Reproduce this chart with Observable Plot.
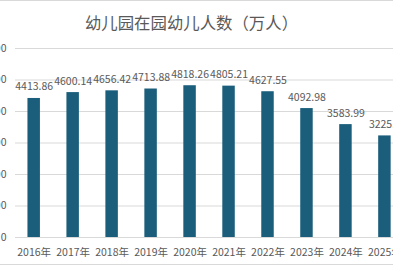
<!DOCTYPE html>
<html>
<head>
<meta charset="utf-8">
<script src="https://cdn.jsdelivr.net/npm/d3@7"></script>
<script src="https://cdn.jsdelivr.net/npm/@observablehq/plot@0.6"></script>
<style>
  html, body { margin: 0; padding: 0; background: #fff; overflow: hidden; }
  #wrap {
    width: 393px; height: 263px; overflow: hidden;
    border-top: 1px solid #d9d9d9; border-bottom: 1px solid #d9d9d9;
    font-family: "Noto Sans CJK SC", sans-serif; background: #fff;
  }
  #title {
    height: 39px; box-sizing: border-box; padding-top: 11px; padding-right: 10px;
    line-height: 20px; font-size: 16.4px; color: #595959; text-align: center;
    white-space: nowrap;
  }
  #chart svg { display: block; overflow: hidden; }
</style>
</head>
<body>
<div id="wrap">
  <div id="title">幼儿园在园幼儿人数（万人）</div>
  <div id="chart"></div>
</div>
<script>
const years = ["2016年","2017年","2018年","2019年","2020年","2021年","2022年","2023年","2024年","2025年"];
const values = [4413.86, 4600.14, 4656.42, 4713.88, 4818.26, 4805.21, 4627.55, 4092.98, 3583.99, 3225.1];
const yTicks = [0, 1000, 2000, 3000, 4000, 5000, 6000];

const data = years.map((year, i) => ({year, value: values[i]}));
const barColor = "#1a5e7b";
const textColor = "#595959";

const chart = Plot.plot({
  width: 393,
  height: 224,
  marginLeft: 15,
  marginRight: 0,
  marginTop: 8,
  marginBottom: 27,
  style: {fontFamily: "'Noto Sans CJK SC', sans-serif", fontSize: "10.5px", color: textColor, background: "#fff", overflow: "hidden"},
  x: {domain: years, range: [14.2, 403.9], paddingInner: 0.68, paddingOuter: 0.34, round: false, label: null},
  y: {domain: [0, 6000], label: null},
  marks: [
    Plot.gridY(yTicks, {stroke: "#d9d9d9", strokeOpacity: 1}),
    Plot.barY(data, {x: "year", y: "value", fill: barColor}),
    Plot.text(data, {x: "year", y: "value", text: d => String(d.value), dy: -8, lineAnchor: "bottom", fill: textColor, fontSize: 10.5}),
    Plot.axisY(yTicks, {tickSize: 0, tickPadding: 9, tickFormat: d => String(d), fill: textColor, fontSize: 10.5, label: null}),
    Plot.axisX({tickSize: 0, tickPadding: 11, fill: textColor, fontSize: 10.5, label: null})
  ]
});
document.getElementById("chart").appendChild(chart);
</script>
</body>
</html>
